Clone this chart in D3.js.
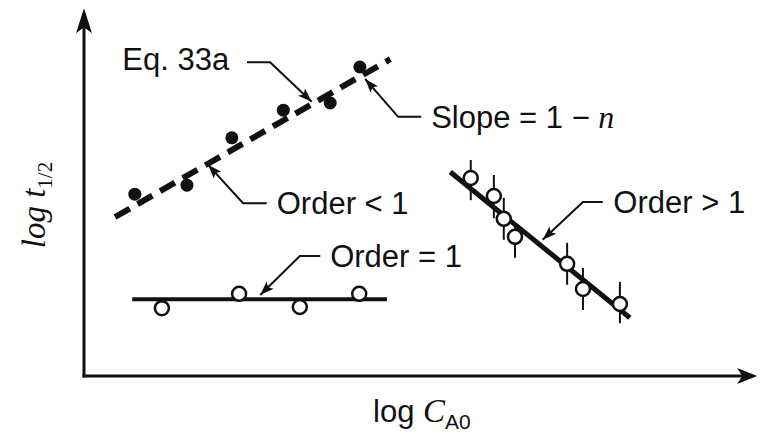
<!DOCTYPE html>
<html lang="en">
<head>
<meta charset="utf-8">
<title>Half-life vs initial concentration</title>
<script src="https://cdnjs.cloudflare.com/ajax/libs/d3/7.8.5/d3.min.js"></script>
<style>
  body { margin: 0; background: #fff; }
  svg { display: block; }
  .lbl { font-family: "Liberation Sans", Arial, sans-serif; font-size: 31px; fill: #111; }
  .ser { font-family: "Liberation Serif", "Times New Roman", serif; font-style: italic; }
</style>
</head>
<body>
<svg id="chart" width="761" height="434"></svg>
<script>
// values, arbitrary log units (no ticks on the original)
var lowX  = [0.77, 1.56, 2.24, 3.02, 3.73, 4.18];   // order < 1, filled dots
var lowY  = [3.03, 3.18, 3.97, 4.43, 4.55, 5.15];
var lowFit = [[0.47, 2.65], [4.64, 5.28]];          // Eq. 33a dashed line

var oneX  = [1.18, 2.35, 3.27, 4.17];                // order = 1, open dots
var oneY  = [1.13, 1.37, 1.15, 1.37];
var oneFit = [[0.73, 1.28], [4.59, 1.28]];

var highX  = [5.86, 6.21, 6.36, 6.53, 7.32, 7.56, 8.12]; // order > 1
var highY  = [3.30, 3.00, 2.62, 2.32, 1.87, 1.45, 1.20];
var highLo = [2.93, 2.63, 2.27, 1.97, 1.52, 1.10, 0.88];
var highHi = [3.60, 3.35, 2.97, 2.48, 2.22, 1.80, 1.57];
var highFit = [[5.55, 3.40], [8.27, 0.97]];

var svg = d3.select("#chart");
var x = d3.scaleLinear().domain([0, 10]).range([84, 744]);
var y = d3.scaleLinear().domain([0, 6]).range([376, 16]);

// arrowhead pointing along angle (radians), tip at (tx,ty)
function arrowHead(g, tx, ty, ang, len, hw, notch) {
  var c = Math.cos(ang), s = Math.sin(ang);
  function p(a, b) { return [tx - a * c - b * s, ty - a * s + b * c]; }
  var pts = [p(0, 0), p(len, hw), p(len - notch, 0), p(len, -hw)];
  g.append("path")
    .attr("d", "M" + pts.join("L") + "Z")
    .attr("fill", "#111");
}

// axes
var ax = svg.append("g").attr("stroke", "#111").attr("stroke-width", 3).attr("fill", "none");
ax.append("line").attr("x1", x(0)).attr("y1", y(0) + 1.5).attr("x2", x(0)).attr("y2", y(6.05));
ax.append("line").attr("x1", x(0) - 1.5).attr("y1", y(0)).attr("x2", x(10.1)).attr("y2", y(0));
arrowHead(svg, x(0), y(6.13), -Math.PI / 2, 25, 8, 6);
arrowHead(svg, x(10.2), y(0), 0, 20, 8, 5);

// fit lines
var line = d3.line().x(function(d) { return x(d[0]); }).y(function(d) { return y(d[1]); });
svg.append("path").attr("d", line(lowFit)).attr("stroke", "#111").attr("stroke-width", 6)
  .attr("stroke-dasharray", "17,9").attr("fill", "none");
svg.append("path").attr("d", line(oneFit)).attr("stroke", "#111").attr("stroke-width", 4).attr("fill", "none");
svg.append("path").attr("d", line(highFit)).attr("stroke", "#111").attr("stroke-width", 5).attr("fill", "none");

// error bars
svg.append("g").selectAll("line").data(highX).enter().append("line")
  .attr("x1", function(d) { return x(d); }).attr("x2", function(d) { return x(d); })
  .attr("y1", function(d, i) { return y(highHi[i]); })
  .attr("y2", function(d, i) { return y(highLo[i]); })
  .attr("stroke", "#111").attr("stroke-width", 2);

// points
svg.append("g").selectAll("circle").data(lowX).enter().append("circle")
  .attr("cx", function(d) { return x(d); }).attr("cy", function(d, i) { return y(lowY[i]); })
  .attr("r", 6.5).attr("fill", "#111");
svg.append("g").selectAll("circle").data(oneX).enter().append("circle")
  .attr("cx", function(d) { return x(d); }).attr("cy", function(d, i) { return y(oneY[i]); })
  .attr("r", 7).attr("fill", "#fff").attr("stroke", "#111").attr("stroke-width", 2.5);
svg.append("g").selectAll("circle").data(highX).enter().append("circle")
  .attr("cx", function(d) { return x(d); }).attr("cy", function(d, i) { return y(highY[i]); })
  .attr("r", 7).attr("fill", "#fff").attr("stroke", "#111").attr("stroke-width", 2.5);

// leader lines: [start, elbow, tip] in data units
var leaders = [
  [[2.47, 5.23], [2.82, 5.23], [3.45, 4.57]],
  [[5.11, 4.32], [4.76, 4.32], [4.26, 4.95]],
  [[2.77, 2.88], [2.41, 2.88], [1.88, 3.52]],
  [[3.58, 2.00], [3.27, 2.00], [2.67, 1.35]],
  [[7.86, 2.90], [7.56, 2.90], [6.95, 2.27]]
];
leaders.forEach(function(l) {
  svg.append("path").attr("d", line(l)).attr("stroke", "#111").attr("stroke-width", 2).attr("fill", "none");
  var a = l[1], b = l[2];
  var ang = Math.atan2(y(b[1]) - y(a[1]), x(b[0]) - x(a[0]));
  arrowHead(svg, x(b[0]), y(b[1]), ang, 14, 5, 3);
});

// labels
function label(txt, px, py) {
  return svg.append("text").attr("class", "lbl").attr("x", x(px)).attr("y", y(py)).text(txt);
}
label("Eq. 33a", 0.58, 5.10);
label("Order < 1", 2.92, 2.70);
label("Order = 1", 3.73, 1.82);
label("Order > 1", 8.02, 2.72);
var sl = svg.append("text").attr("class", "lbl").attr("x", x(5.26)).attr("y", y(4.13));
sl.append("tspan").text("Slope = 1 \u2212 ");
sl.append("tspan").attr("class", "ser").attr("font-size", 32).text("n");

// axis titles
var yl = svg.append("text").attr("class", "lbl ser")
  .attr("transform", "translate(45,205) rotate(-90)").attr("text-anchor", "middle");
yl.append("tspan").attr("font-size", 33).text("log t");
yl.append("tspan").attr("font-size", 21).attr("font-style", "normal").attr("dy", 7).text("1/2");

var xl = svg.append("text").attr("class", "lbl").attr("x", 373).attr("y", 422);
xl.append("tspan").attr("font-size", 31).text("log ");
xl.append("tspan").attr("class", "ser").attr("font-size", 33).text("C");
xl.append("tspan").attr("font-size", 21).attr("dy", 7).text("A0");
</script>
</body>
</html>
